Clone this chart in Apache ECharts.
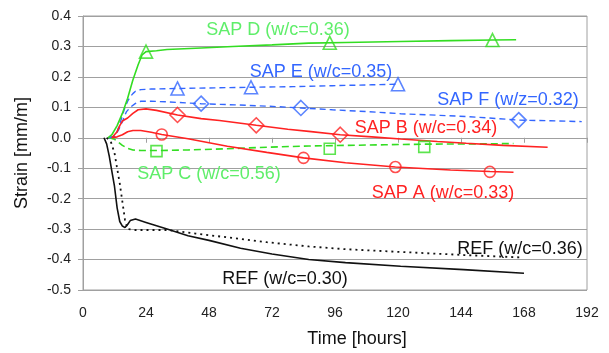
<!DOCTYPE html>
<html><head><meta charset="utf-8">
<script src="https://cdn.jsdelivr.net/npm/echarts@6/dist/echarts.min.js"></script>
<style>html,body{margin:0;padding:0;background:#fff}#c{width:609px;height:353px}</style>
</head><body><div id="c"></div>
<script>
// x = time [hours], y = strain [mm/m]
const xTicks = [0, 24, 48, 72, 96, 120, 144, 168, 192];
const yTicks = [-0.5, -0.4, -0.3, -0.2, -0.1, 0.0, 0.1, 0.2, 0.3, 0.4];

const sapD = [[9.5,0],[11,0.01],[13,0.04],[15,0.08],[17,0.13],[19,0.19],[21,0.24],[22.5,0.272],[24,0.283],[28,0.286],[32,0.29],[45,0.295],[57,0.3],[72,0.305],[86,0.311],[100,0.313],[121,0.316],[140,0.319],[156,0.321],[165,0.322]];
const sapDMarks = [[24,0.283],[94,0.312],[156,0.321]];

const sapE = [[10,0],[12,0.005],[13,0.02],[14,0.045],[15,0.073],[16,0.1],[17,0.12],[18,0.135],[19,0.145],[20,0.153],[22,0.158],[26,0.16],[36,0.162],[50,0.164],[64,0.166],[80,0.168],[95,0.171],[110,0.174],[120,0.176]];
const sapEMarks = [[36,0.162],[64,0.166],[120,0.176]];

const sapF = [[10,0],[12,0.005],[13.5,0.025],[15,0.053],[16.5,0.085],[18,0.1],[20,0.113],[22,0.12],[26,0.12],[32,0.118],[45,0.112],[58,0.108],[70,0.104],[83,0.098],[95,0.092],[108,0.086],[121,0.079],[135,0.074],[146,0.07],[158,0.063],[166,0.058],[178,0.056],[190,0.053]];
const sapFMarks = [[45,0.112],[83,0.098],[166,0.058]];

const sapB = [[11,0],[13,0.02],[14,0.04],[15,0.055],[17,0.065],[19,0.08],[21,0.092],[24,0.095],[28,0.09],[36,0.075],[45,0.063],[52,0.057],[66,0.041],[78,0.028],[86,0.021],[98,0.01],[110,0.003],[121,-0.004],[135,-0.012],[146,-0.018],[160,-0.025],[177,-0.031]];
const sapBMarks = [[36,0.075],[66,0.041],[98,0.01]];

const sapA = [[11,0],[13,0.003],[15,0.01],[17,0.02],[19,0.024],[22,0.024],[26,0.018],[30,0.011],[40,-0.003],[55,-0.028],[70,-0.048],[84,-0.066],[100,-0.082],[119,-0.096],[140,-0.106],[155,-0.111],[164,-0.113]];
const sapAMarks = [[30,0.011],[84,-0.066],[119,-0.096],[155,-0.112]];

const sapC = [[10,0],[12,-0.005],[13.5,-0.015],[15,-0.025],[17,-0.035],[19,-0.04],[22,-0.042],[28,-0.042],[40,-0.04],[55,-0.036],[70,-0.031],[86,-0.027],[100,-0.025],[115,-0.023],[130,-0.021],[150,-0.02],[164,-0.019]];
const sapCMarks = [[28,-0.044],[94,-0.036],[130,-0.03]];

const ref30 = [[8,0],[9,-0.02],[10,-0.06],[11,-0.11],[12,-0.16],[13,-0.23],[14,-0.275],[15,-0.29],[16,-0.295],[17,-0.285],[18,-0.272],[20,-0.267],[24,-0.278],[32,-0.3],[40,-0.322],[48,-0.337],[60,-0.363],[72,-0.382],[86,-0.4],[100,-0.41],[121,-0.422],[145,-0.433],[168,-0.445]];
const ref36 = [[9,0],[10.5,-0.01],[12,-0.05],[13,-0.1],[14,-0.15],[15,-0.21],[16,-0.27],[17,-0.3],[20,-0.303],[32,-0.303],[43,-0.315],[56,-0.328],[70,-0.343],[86,-0.357],[100,-0.366],[121,-0.375],[145,-0.385],[167,-0.393]];

const GREEN = '#33dd22', GREEN_T = '#5fee6a', BLUE = '#3366ff', RED = '#ff2222', BLACK = '#111111';
const FONT = 'Liberation Sans, Arial, sans-serif';

function line(data, color, type, width) {
  return { type: 'line', data: data, showSymbol: false, symbol: 'none', smooth: false, z: 3,
    lineStyle: { color: color, width: width || 1.6, type: type || 'solid' } };
}
function marks(data, color, symbol, size) {
  return { type: 'scatter', data: data, symbol: symbol, symbolSize: size || 12, z: 4,
    itemStyle: { color: 'rgba(255,255,255,0)', borderColor: color, borderWidth: 1.6 } };
}
function label(text, cx, cy, color) {
  return { type: 'text', x: cx, y: cy, z: 10,
    style: { text: text, fill: color, font: '18px ' + FONT, textAlign: 'center', textVerticalAlign: 'middle' } };
}

const chart = echarts.init(document.getElementById('c'), null, { renderer: 'canvas' });
chart.setOption({
  animation: false,
  backgroundColor: '#fff',
  grid: { left: 83, right: 22, top: 16, bottom: 59, show: true, borderColor: '#a0a0a0', borderWidth: 1 },
  xAxis: {
    type: 'value', min: xTicks[0], max: xTicks[xTicks.length - 1], interval: 24,
    name: 'Time [hours]', nameLocation: 'middle', nameGap: 40,
    nameTextStyle: { fontSize: 18, fontFamily: FONT, color: '#111', padding: [0, 0, 0, 44] },
    axisLine: { show: true, lineStyle: { color: '#a0a0a0', width: 1 } },
    axisTick: { show: true, length: 5, lineStyle: { color: '#a0a0a0' } },
    axisLabel: { fontSize: 14, fontFamily: FONT, color: '#222', margin: 16 },
    splitLine: { show: false }
  },
  yAxis: {
    type: 'value', min: yTicks[0], max: yTicks[yTicks.length - 1], interval: 0.1,
    name: 'Strain [mm/m]', nameLocation: 'middle', nameGap: 52, nameRotate: 90,
    nameTextStyle: { fontSize: 18, fontFamily: FONT, color: '#111' },
    axisLine: { show: true, lineStyle: { color: '#a0a0a0', width: 1 } },
    axisTick: { show: true, length: 5, lineStyle: { color: '#a0a0a0' } },
    axisLabel: { fontSize: 14, fontFamily: FONT, color: '#222', margin: 12,
      formatter: v => (Math.abs(v) < 1e-9 ? 0 : v).toFixed(1) },
    splitLine: { show: true, lineStyle: { color: '#a0a0a0', width: 1.2 } }
  },
  series: [
    line(ref36, BLACK, [2, 4], 1.8),
    line(ref30, BLACK, 'solid', 1.6),
    line(sapC, GREEN, [7, 4], 1.6),
    line(sapF, BLUE, [6, 4], 1.4),
    line(sapE, BLUE, [6, 4], 1.4),
    line(sapA, RED, 'solid', 1.6),
    line(sapB, RED, 'solid', 1.6),
    line(sapD, GREEN, 'solid', 1.6),
    marks(sapDMarks, GREEN, 'triangle', 13),
    marks(sapEMarks, BLUE, 'triangle', 13),
    marks(sapFMarks, BLUE, 'diamond', 15),
    marks(sapBMarks, RED, 'diamond', 15),
    marks(sapAMarks, RED, 'circle', 11),
    marks(sapCMarks, GREEN, 'rect', 11)
  ],
  graphic: [
    label('SAP D (w/c=0.36)', 278, 30, GREEN_T),
    label('SAP E (w/c=0.35)', 321, 72, BLUE),
    label('SAP F (w/z=0.32)', 508, 100, BLUE),
    label('SAP B (w/c=0.34)', 426, 128, RED),
    label('SAP C (w/c=0.56)', 209, 174, GREEN_T),
    label('SAP A (w/c=0.33)', 443, 193, RED),
    label('REF (w/c=0.36)', 520, 249, BLACK),
    label('REF (w/c=0.30)', 285, 279, BLACK)
  ]
});
</script>
</body></html>
